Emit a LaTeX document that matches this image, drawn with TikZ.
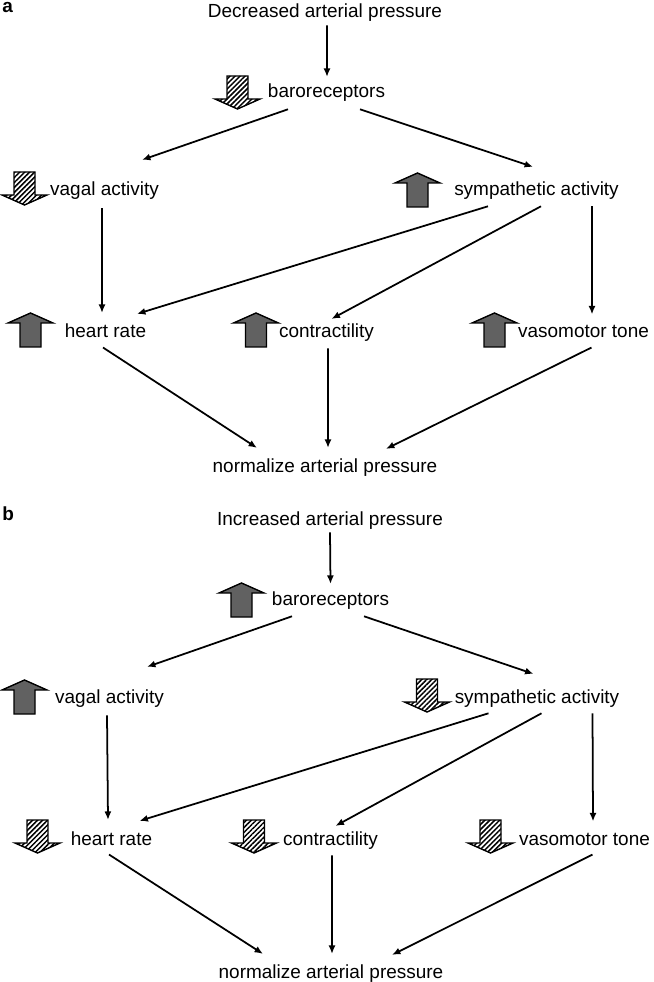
\documentclass[tikz,border=0pt]{standalone}
\usepackage{fontspec}
\setmainfont{Liberation Sans}
\usetikzlibrary{arrows.meta,calc,patterns.meta}

\newcommand{\riseArrow}[2]{%
  \draw[risebox] (#1,#2) -- ++(22.5,10) -- ++(-12,0) -- ++(0,24) -- ++(-21,0) -- ++(0,-24) -- ++(-12,0) -- cycle;}
\newcommand{\fallArrow}[2]{%
  \draw[fallbox] (#1-10.5,#2) -- ++(21,0) -- ++(0,23) -- ++(12,0) -- ++(-22.5,10) -- ++(-22.5,-10) -- ++(12,0) -- cycle;}

\begin{document}
\begin{tikzpicture}[x=0.02cm,y=-0.02cm,
    lbl/.style={anchor=base,inner sep=0pt,font=\fontsize{10.8}{13}\selectfont},
    panel/.style={anchor=base west,inner sep=0pt,font=\fontsize{10.8}{13}\selectfont\bfseries},
    conn/.style={line width=1pt,-{Latex[length=4.8pt,width=4pt]}},
    risebox/.style={draw=black,line width=0.8pt,fill=black!62},
    fallbox/.style={draw=black,line width=0.8pt,pattern={Lines[angle=45,distance=2pt,line width=0.85pt]}}]
    \useasboundingbox (0,0) rectangle (653,982);

    % Panel a: decreased pressure
    \node[panel] (labA) at (2,13) {a};
    \node[lbl] (decA) at (325,18) {Decreased arterial pressure};
    \node[lbl] (baroA) at (326.5,98) {baroreceptors};
    \node[lbl] (vagA) at (104.5,196) {vagal activity};
    \node[lbl] (symA) at (536.5,196) {sympathetic activity};
    \node[lbl] (hrA) at (105.5,338) {heart rate};
    \node[lbl] (conA) at (326.5,338) {contractility};
    \node[lbl] (vasoA) at (583.5,338) {vasomotor tone};
    \node[lbl] (normA) at (325,472) {normalize arterial pressure};

    \fallArrow{237.5}{76}
    \fallArrow{24.5}{172}
    \riseArrow{417.5}{173}
    \riseArrow{30.5}{313}
    \riseArrow{256}{313}
    \riseArrow{494.5}{313}

    \draw[conn] ($(decA.south)+(2,3)$) -- ($(baroA.north)+(0.5,-7)$);
    \draw[conn] ($(baroA.south)+(-38.5,7)$) -- ($(vagA.north)+(37.5,-22)$);
    \draw[conn] ($(baroA.south)+(33.5,7)$) -- ($(symA.north)+(-3.5,-15)$);
    \draw[conn] ($(vagA.south)+(-2.5,8)$) -- ($(hrA.north)+(-3.5,-11)$);
    \draw[conn] ($(symA.south)+(-48.5,6)$) -- ($(hrA.north)+(31.5,-10)$);
    \draw[conn] ($(symA.south)+(4.5,6)$) -- ($(conA.north)+(5,-5)$);
    \draw[conn] ($(symA.south)+(55.5,6)$) -- ($(vasoA.north)+(8.5,-11)$);
    \draw[conn] ($(hrA.south)+(-2.5,9)$) -- ($(normA.north)+(-68,-10)$);
    \draw[conn] ($(conA.south)+(1.5,6)$) -- ($(normA.north)+(3,-10)$);
    \draw[conn] ($(vasoA.south)+(8,9)$) -- ($(normA.north)+(61,-9)$);

    % Panel b: increased pressure
    \node[panel] (labB) at (2,520) {b};
    \node[lbl] (incB) at (330,525) {Increased arterial pressure};
    \node[lbl] (baroB) at (330.5,605) {baroreceptors};
    \node[lbl] (vagB) at (109.5,703) {vagal activity};
    \node[lbl] (symB) at (537,703) {sympathetic activity};
    \node[lbl] (hrB) at (111.5,845) {heart rate};
    \node[lbl] (conB) at (330.5,845) {contractility};
    \node[lbl] (vasoB) at (584.5,845) {vasomotor tone};
    \node[lbl] (normB) at (331,978) {normalize arterial pressure};

    \riseArrow{241.5}{583}
    \riseArrow{24.5}{680}
    \fallArrow{427}{679}
    \fallArrow{37.5}{820}
    \fallArrow{254}{820}
    \fallArrow{490.5}{820}

    \draw[conn] ($(incB.south)+(0,3)$) -- ($(baroB.north)+(0,-7)$);
    \draw[conn] ($(baroB.south)+(-38.5,7)$) -- ($(vagB.north)+(37.5,-22)$);
    \draw[conn] ($(baroB.south)+(33.5,7)$) -- ($(symB.north)+(-3.5,-15)$);
    \draw[conn] ($(vagB.south)+(-2.5,8)$) -- ($(hrB.north)+(-3.5,-11)$);
    \draw[conn] ($(symB.south)+(-48.5,6)$) -- ($(hrB.north)+(28,-10)$);
    \draw[conn] ($(symB.south)+(4.5,6)$) -- ($(conB.north)+(5,-5)$);
    \draw[conn] ($(symB.south)+(55.5,6)$) -- ($(vasoB.north)+(8.5,-11)$);
    \draw[conn] ($(hrB.south)+(-2.5,9)$) -- ($(normB.north)+(-68,-10)$);
    \draw[conn] ($(conB.south)+(1.5,6)$) -- ($(normB.north)+(1,-10)$);
    \draw[conn] ($(vasoB.south)+(8,9)$) -- ($(normB.north)+(61,-9)$);
\end{tikzpicture}
\end{document}
